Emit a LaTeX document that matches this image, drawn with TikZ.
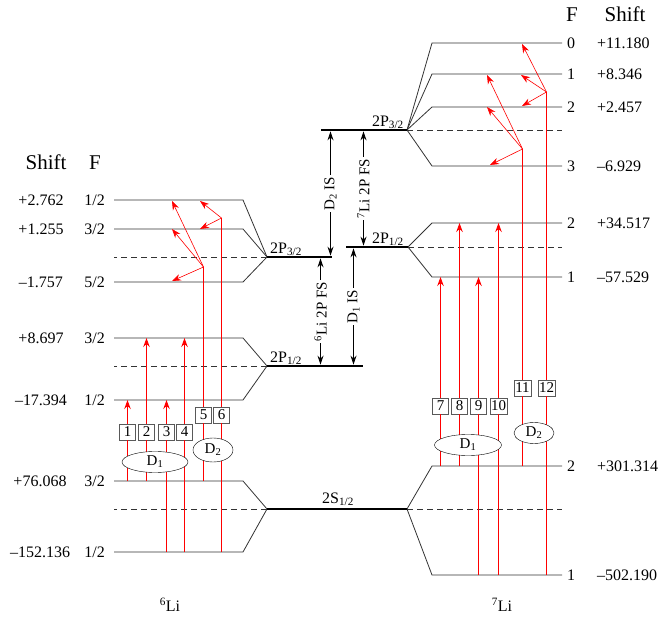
\documentclass[tikz,border=0pt]{standalone}
\usepackage{fontspec}
\setmainfont{Liberation Serif}
\usetikzlibrary{arrows.meta,positioning,calc,shapes.geometric}
\newcommand{\lsub}[1]{\textsubscript{#1}}
\newcommand{\isot}[1]{\textsuperscript{#1}Li}
\tikzset{
  lvl/.style={draw=black!80, line width=0.8pt},
  ctr/.style={draw=black!80, line width=0.8pt, dash pattern=on 6pt off 4pt},
  term/.style={draw=black, line width=2.6pt},
  tr/.style={draw=red, line width=1pt},
  up/.style={tr, -{Stealth[length=9pt,width=6.5pt]}},
  hf/.style={draw=red, line width=0.6pt, -{Stealth[length=9pt,width=6.5pt]}},
  num/.style={draw=black!65, fill=white, inner sep=1pt, minimum size=16pt, font=\fontsize{15}{15}\selectfont},
  grp/.style={ellipse, draw=black, fill=white, inner sep=0pt, font=\fontsize{15}{15}\selectfont},
  val/.style={inner sep=1pt, text height=11pt, text depth=0pt, font=\fontsize{16}{16}\selectfont},
  hdr/.style={inner sep=1pt, text height=14pt, text depth=0pt, font=\fontsize{21}{21}\selectfont},
  tlab/.style={inner sep=1pt, font=\fontsize{16}{16}\selectfont},
  gap/.style={draw=black, line width=0.8pt, >={Stealth[length=9pt,width=6pt]}, <->, shorten <=1.3pt, shorten >=1.3pt},
  vlab/.style={rotate=90, fill=white, inner sep=2pt, font=\fontsize{15}{15}\selectfont}}

\begin{document}
\begin{tikzpicture}[x=1pt, y=-1pt]
  \useasboundingbox (0,0) rectangle (664,620);
  % 6Li terms and hyperfine levels
  \coordinate (p3) at (267,257); \coordinate (p1) at (267,366); \coordinate (s) at (267,509);
  \coordinate (p3a) at (114,200); \coordinate (p3b) at (114,229); \coordinate (p3c) at (114,282);
  \coordinate (p1a) at (114,338); \coordinate (p1b) at (114,400);
  \coordinate (sa) at (114,481); \coordinate (sb) at (114,552);
  \foreach \l in {p3a,p3b,p3c} \draw[lvl] (\l) -- ++(129,0) -- (p3);
  \foreach \l in {p1a,p1b} \draw[lvl] (\l) -- ++(129,0) -- (p1);
  \foreach \l in {sa,sb} \draw[lvl] (\l) -- ++(129,0) -- (s);
  \draw[ctr] (p3) -- (p3 -| p3a); \draw[ctr] (p1) -- (p1 -| p1a); \draw[ctr] (s) -- (s -| sa);
  % 7Li terms and hyperfine levels
  \coordinate (q3) at (407,130); \coordinate (q1) at (408,247); \coordinate (qs) at (407,509);
  \coordinate (q3a) at (562,43); \coordinate (q3b) at (562,74); \coordinate (q3c) at (562,107); \coordinate (q3d) at (562,166);
  \coordinate (q1a) at (562,223); \coordinate (q1b) at (562,277);
  \coordinate (qsa) at (562,466); \coordinate (qsb) at (562,575);
  \foreach \l in {q3a,q3b,q3c,q3d} \draw[lvl] (\l) -- ++(-130,0) -- (q3);
  \foreach \l in {q1a,q1b} \draw[lvl] (\l) -- ++(-130,0) -- (q1);
  \foreach \l in {qsa,qsb} \draw[lvl] (\l) -- ++(-130,0) -- (qs);
  \draw[ctr] (q3) -- (q3 -| q3a); \draw[ctr] (q1) -- (q1 -| q1a); \draw[ctr] (qs) -- (qs -| qsa);
  % fine structure terms
  \draw[term] (p3) -- ++(65,0); \draw[term] (p1) -- ++(96,0); \draw[term] (s) -- (qs);
  \draw[term] (q3) -- ++(-86,0); \draw[term] (q1) -- ++(-62,0);
  \node[tlab, anchor=south west] (l6p3) at ($(p3)+(2,0)$) {2P\lsub{3/2}};
  \node[tlab, anchor=south west] (l6p1) at ($(p1)+(2,0)$) {2P\lsub{1/2}};
  \node[tlab, anchor=south] (ls) at (338,507) {2S\lsub{1/2}};
  \node[tlab, anchor=south east] (l7p3) at ($(q3)+(-2,0)$) {2P\lsub{3/2}};
  \node[tlab, anchor=south east] (l7p1) at ($(q1)+(-3,0)$) {2P\lsub{1/2}};
  % shifts
  \coordinate (m1) at (330.5,0); \coordinate (m2) at (363.5,0); \coordinate (m3) at (320.5,0); \coordinate (m4) at (353.5,0);
  \draw[gap] (m1 |- q3) -- node[vlab] {D\lsub{2} IS} (m1 |- p3);
  \draw[gap] (m2 |- q3) -- node[vlab] {\isot{7} 2P FS} (m2 |- q1);
  \draw[gap] (m3 |- p3) -- node[vlab] {\isot{6} 2P FS} (m3 |- p1);
  \draw[gap] (m4 |- q1) -- node[vlab] {D\lsub{1} IS} (m4 |- p1);
  % labels 6Li
  \node[hdr] (hs6) at (46,163) {Shift}; \node[hdr] (hf6) at (95,163) {F};
  \node[val] (e1) at (41,200) {+2.762};   \node[val, left=8pt of p3a] (f1) {1/2};
  \node[val] (e2) at (41,229) {+1.255};   \node[val, left=8pt of p3b] (f2) {3/2};
  \node[val] (e3) at (41,282) {--1.757};  \node[val, left=8pt of p3c] (f3) {5/2};
  \node[val] (e4) at (41,338) {+8.697};   \node[val, left=8pt of p1a] (f4) {3/2};
  \node[val] (e5) at (41,400) {--17.394}; \node[val, left=8pt of p1b] (f5) {1/2};
  \node[val] (e6) at (40,481) {+76.068};  \node[val, left=8pt of sa] (f6) {3/2};
  \node[val] (e7) at (40,552) {--152.136};\node[val, left=8pt of sb] (f7) {1/2};
  \node[val] (li6) at (170,606) {\isot{6}};
  % labels 7Li
  \node[hdr] (hf7) at (572,15) {F}; \node[hdr] (hs7) at (625,15) {Shift};
  \node[val, right=4pt of q3a] (g1) {0}; \node[val, anchor=west] (k1) at (596,43) {+11.180};
  \node[val, right=4pt of q3b] (g2) {1}; \node[val, anchor=west] (k2) at (596,74) {+8.346};
  \node[val, right=4pt of q3c] (g3) {2}; \node[val, anchor=west] (k3) at (596,107) {+2.457};
  \node[val, right=4pt of q3d] (g4) {3}; \node[val, anchor=west] (k4) at (596,166) {--6.929};
  \node[val, right=4pt of q1a] (g5) {2}; \node[val, anchor=west] (k5) at (596,223) {+34.517};
  \node[val, right=4pt of q1b] (g6) {1}; \node[val, anchor=west] (k6) at (596,277) {--57.529};
  \node[val, right=4pt of qsa] (g7) {2}; \node[val, anchor=west] (k7) at (596,466) {+301.314};
  \node[val, right=4pt of qsb] (g8) {1}; \node[val, anchor=west] (k8) at (596,575) {--502.190};
  \node[val] (li7) at (502,606) {\isot{7}};
  % transition numbers
  \node[num] (n1) at (127.5,432) {1}; \node[num] (n2) at (146.5,432) {2};
  \node[num] (n3) at (166.5,432) {3}; \node[num] (n4) at (184.5,432) {4};
  \node[num] (n5) at (203.5,415) {5}; \node[num] (n6) at (221.5,415) {6};
  \node[num] (n7) at (440.5,406) {7}; \node[num] (n8) at (459.5,406) {8};
  \node[num] (n9) at (478.5,406) {9}; \node[num] (n10) at (498.5,406) {10};
  \node[num] (n11) at (522.5,388) {11}; \node[num] (n12) at (546.5,388) {12};
  % D1 lines
  \draw[tr] (n1 |- sa) -- (n1); \draw[up] (n1) -- (n1 |- p1b);
  \draw[tr] (n2 |- sa) -- (n2); \draw[up] (n2) -- (n2 |- p1a);
  \draw[tr] (n3 |- sb) -- (n3); \draw[up] (n3) -- (n3 |- p1b);
  \draw[tr] (n4 |- sb) -- (n4); \draw[up] (n4) -- (n4 |- p1a);
  \draw[tr] (n7 |- qsa) -- (n7); \draw[up] (n7) -- (n7 |- q1b);
  \draw[tr] (n8 |- qsa) -- (n8); \draw[up] (n8) -- (n8 |- q1a);
  \draw[tr] (n9 |- qsb) -- (n9); \draw[up] (n9) -- (n9 |- q1b);
  \draw[tr] (n10 |- qsb) -- (n10); \draw[up] (n10) -- (n10 |- q1a);
  % D2 lines, fanning out to the unresolved 2P3/2 levels
  \coordinate (j5) at (203.5,267); \coordinate (j6) at (221.5,218);
  \coordinate (j11) at (522.5,149); \coordinate (j12) at (546.5,92);
  \coordinate (h5a) at (172,201); \coordinate (h5b) at (172,229); \coordinate (h5c) at (172,281);
  \coordinate (h6a) at (200,201); \coordinate (h6b) at (200,229);
  \coordinate (h11a) at (487,75); \coordinate (h11b) at (487,107); \coordinate (h11c) at (490,165);
  \coordinate (h12a) at (522,44); \coordinate (h12b) at (521,75); \coordinate (h12c) at (522,106);
  \draw[tr] (n5 |- sa) -- (n5); \draw[tr] (n5) -- (j5);
  \draw[tr] (n6 |- sb) -- (n6); \draw[tr] (n6) -- (j6);
  \draw[tr] (n11 |- qsa) -- (n11); \draw[tr] (n11) -- (j11);
  \draw[tr] (n12 |- qsb) -- (n12); \draw[tr] (n12) -- (j12);
  \draw[hf] (j5) -- (h5a); \draw[hf] (j5) -- (h5b); \draw[hf] (j5) -- (h5c);
  \draw[hf] (j6) -- (h6a); \draw[hf] (j6) -- (h6b);
  \draw[hf] (j11) -- (h11a); \draw[hf] (j11) -- (h11b); \draw[hf] (j11) -- (h11c);
  \draw[hf] (j12) -- (h12a); \draw[hf] (j12) -- (h12b); \draw[hf] (j12) -- (h12c);
  % line groups
  \node[grp, minimum width=66pt, minimum height=21pt] (d1l) at (155,462) {D\lsub{1}};
  \node[grp, minimum width=40pt, minimum height=24pt] (d2l) at (213,450) {D\lsub{2}};
  \node[grp, minimum width=67pt, minimum height=21pt] (d1r) at (468,445) {D\lsub{1}};
  \node[grp, minimum width=40pt, minimum height=21pt] (d2r) at (534,433) {D\lsub{2}};
\end{tikzpicture}
\end{document}
